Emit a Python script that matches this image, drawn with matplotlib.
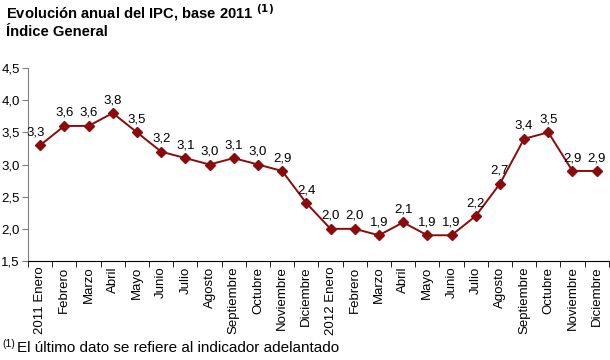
import matplotlib
matplotlib.use('Agg')
import matplotlib.pyplot as plt
import numpy as np

plt.rcParams['font.family'] = ['Liberation Sans', 'DejaVu Sans']

months = ['2011 Enero', 'Febrero', 'Marzo', 'Abril', 'Mayo', 'Junio', 'Julio',
          'Agosto', 'Septiembre', 'Octubre', 'Noviembre', 'Diciembre',
          '2012 Enero', 'Febrero', 'Marzo', 'Abril', 'Mayo', 'Junio', 'Julio',
          'Agosto', 'Septiembre', 'Octubre', 'Noviembre', 'Diciembre']
ipc = [3.3, 3.6, 3.6, 3.8, 3.5, 3.2, 3.1, 3.0, 3.1, 3.0, 2.9, 2.4,
       2.0, 2.0, 1.9, 2.1, 1.9, 1.9, 2.2, 2.7, 3.4, 3.5, 2.9, 2.9]
yticks = [1.5, 2.0, 2.5, 3.0, 3.5, 4.0, 4.5]

x = np.arange(len(months))
color = '#8b0a0a'

fig = plt.figure(figsize=(6.1, 3.6), dpi=100)
ax = fig.add_axes([0.046, 0.275, 0.952, 0.536])
ax.plot(x, ipc, color=color, lw=1.4, marker='D', ms=5.5, mfc=color, mec=color)

for i, v in enumerate(ipc):
    dx = -3 if i == 0 else 0
    ax.annotate('{:.1f}'.format(v).replace('.', ','), xy=(i, v), xytext=(dx, 5),
                textcoords='offset points', ha='center', va='bottom', fontsize=9.5)

ax.set_xlim(-0.5, len(months) - 0.5)
ax.set_ylim(1.5, 4.5)
ax.set_yticks(yticks)
ax.set_yticklabels(['{:.1f}'.format(t).replace('.', ',') for t in yticks], fontsize=9.5)
ax.set_xticks(x)
ax.set_xticklabels(months, rotation=90, fontsize=9.5)
ax.tick_params(axis='x', length=0, pad=4)
ax.set_xticks(np.arange(-0.5, len(months), 1), minor=True)
ax.tick_params(axis='x', which='minor', length=4, direction='out', color='black')
ax.tick_params(axis='y', length=4, direction='out', color='#808080', pad=2)

for s in ['top', 'right']:
    ax.spines[s].set_visible(False)
ax.spines['left'].set_color('#808080')
ax.spines['bottom'].set_color('black')

fig.text(0.01, 0.965, 'Evolución anual del IPC, base 2011 $^{\\mathbf{(1)}}$',
         fontsize=10.6, fontweight='bold', va='center')
fig.text(0.01, 0.91, 'Índice General', fontsize=10.6, fontweight='bold', va='center')
fig.text(0.004, 0.045, '(1)', fontsize=7.5, va='center')
fig.text(0.028, 0.033, 'El último dato se refiere al indicador adelantado',
         fontsize=11, va='center')

plt.savefig('out.png', dpi=100)
